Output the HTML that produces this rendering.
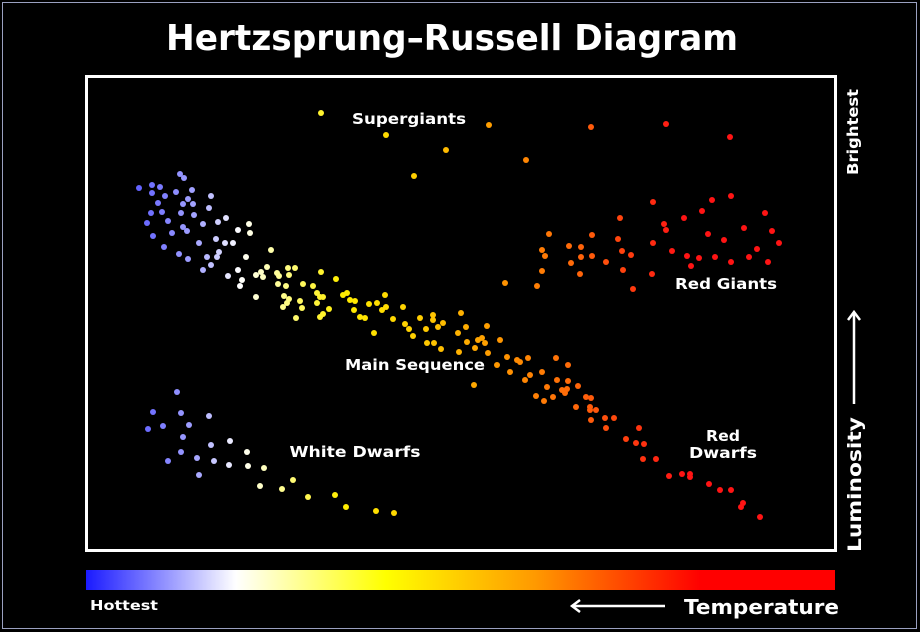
<!DOCTYPE html>
<html><head><meta charset="utf-8"><style>
html,body{margin:0;padding:0;background:#000;}
svg{display:block;}
text{font-family:"DejaVu Sans","Liberation Sans",sans-serif;font-weight:bold;fill:#fff;}
</style></head><body>
<svg id="s" width="920" height="632" viewBox="0 0 920 632" xmlns="http://www.w3.org/2000/svg">
<defs>
<linearGradient id="g" x1="0" x2="1" y1="0" y2="0">
<stop offset="0" stop-color="#1a1aff"/>
<stop offset="0.2" stop-color="#ffffff"/>
<stop offset="0.4" stop-color="#ffff00"/>
<stop offset="0.6" stop-color="#ff9900"/>
<stop offset="0.82" stop-color="#ff0000"/>
<stop offset="1" stop-color="#ff0000"/>
</linearGradient>
</defs>
<rect x="0" y="0" width="920" height="632" fill="#000"/>
<rect x="2.5" y="2.5" width="914" height="626" fill="none" stroke="#9aa0c0" stroke-width="1"/>
<text x="452" y="50" text-anchor="middle" font-size="36" textLength="572" lengthAdjust="spacingAndGlyphs">Hertzsprung–Russell Diagram</text>
<rect x="86.5" y="76.5" width="749" height="474" fill="none" stroke="#fff" stroke-width="3"/>
<g id="dots"></g>
<text x="409" y="124" text-anchor="middle" font-size="15" textLength="114" lengthAdjust="spacingAndGlyphs">Supergiants</text>
<text x="726" y="289" text-anchor="middle" font-size="15" textLength="102" lengthAdjust="spacingAndGlyphs">Red Giants</text>
<text x="415" y="370" text-anchor="middle" font-size="15" textLength="140" lengthAdjust="spacingAndGlyphs">Main Sequence</text>
<text x="355" y="457" text-anchor="middle" font-size="15" textLength="131" lengthAdjust="spacingAndGlyphs">White Dwarfs</text>
<text x="723" y="441" text-anchor="middle" font-size="15" textLength="34" lengthAdjust="spacingAndGlyphs">Red</text>
<text x="723" y="458" text-anchor="middle" font-size="15" textLength="68" lengthAdjust="spacingAndGlyphs">Dwarfs</text>
<rect x="86" y="570" width="749" height="20" fill="url(#g)"/>
<text x="90" y="610" font-size="13" textLength="68" lengthAdjust="spacingAndGlyphs">Hottest</text>
<text x="684" y="614" font-size="20" textLength="155" lengthAdjust="spacingAndGlyphs">Temperature</text>
<line x1="572" y1="606" x2="665" y2="606" stroke="#fff" stroke-width="2.5"/>
<polyline points="580,600 572,606 580,612" fill="none" stroke="#fff" stroke-width="2.5"/>
<text transform="translate(858,175) rotate(-90)" font-size="15" textLength="86" lengthAdjust="spacingAndGlyphs">Brightest</text>
<text transform="translate(861,552) rotate(-90)" font-size="19" textLength="135" lengthAdjust="spacingAndGlyphs">Luminosity</text>
<line x1="854" y1="312" x2="854" y2="404" stroke="#fff" stroke-width="2.5"/>
<polyline points="848,320 854,312 860,320" fill="none" stroke="#fff" stroke-width="2.5"/>
</svg>
<script>
var pts=[
[139,188],[152,185],[160,187],[180,174],[184,178],[152,193],[165,196],[176,192],[192,190],[211,196],[158,203],[183,204],[188,199],[193,204],[209,208],[151,213],[162,212],[181,213],[194,215],[147,223],[168,221],[203,224],[218,222],[226,218],[249,224],[183,227],[187,231],[172,233],[153,236],[238,230],[250,233],[216,239],[199,243],[225,243],[233,243],[164,247],[179,254],[188,259],[207,257],[217,257],[219,252],[246,257],[271,250],[203,270],[211,265],[238,270],[228,276],[242,280],[240,286],[256,275],[261,272],[263,277],[267,267],[277,273],[279,276],[288,268],[295,268],[289,275],[321,272],[336,279],[278,284],[286,286],[303,284],[313,286],[256,297],[284,296],[289,299],[287,303],[300,301],[283,307],[302,308],[296,318],[317,293],[320,297],[323,297],[317,303],[329,309],[323,314],[320,317],[343,295],[347,293],[350,300],[355,301],[354,310],[360,317],[365,318],[369,304],[377,303],[385,295],[386,307],[382,310],[403,307],[393,319],[405,324],[409,329],[413,336],[374,333],[420,318],[433,315],[433,320],[443,323],[438,327],[426,329],[461,313],[466,327],[458,333],[487,326],[482,338],[478,340],[485,343],[500,340],[467,342],[427,343],[434,343],[441,349],[459,352],[475,348],[488,353],[497,365],[507,357],[517,360],[520,362],[528,358],[556,358],[568,365],[510,372],[530,375],[525,380],[542,372],[474,385],[557,380],[568,381],[578,386],[547,387],[562,390],[565,393],[567,389],[536,396],[544,401],[553,397],[586,397],[591,398],[576,407],[590,407],[590,410],[596,410],[591,420],[605,418],[614,418],[606,428],[639,428],[626,439],[636,443],[644,444],[643,459],[656,459],[669,476],[682,474],[690,474],[690,477],[709,484],[720,490],[731,490],[743,503],[741,507],[760,517],
[505,283],[537,286],[542,271],[542,250],[545,256],[549,234],[569,246],[581,247],[581,257],[571,263],[580,274],[592,256],[592,235],[606,262],[618,239],[620,218],[622,251],[631,255],[623,270],[633,289],[653,202],[653,243],[652,274],[664,224],[666,230],[672,251],[684,218],[687,256],[691,266],[699,258],[702,211],[708,234],[712,200],[715,257],[724,240],[731,196],[731,262],[744,228],[749,257],[757,249],[765,213],[768,262],[772,231],[779,243],
[321,113],[386,135],[489,125],[446,150],[414,176],[526,160],[591,127],[666,124],[730,137],
[177,392],[153,412],[181,413],[209,416],[148,429],[163,426],[189,425],[183,437],[211,445],[230,441],[247,452],[181,452],[168,461],[197,458],[214,461],[229,465],[248,466],[264,468],[199,475],[260,486],[282,489],[293,480],[308,497],[335,495],[346,507],[376,511],[394,513]];
var stops=[[140,[100,100,255]],[200,[170,170,255]],[240,[255,255,255]],[275,[255,255,160]],[340,[255,238,0]],[420,[255,205,0]],[500,[255,150,0]],[580,[255,100,10]],[680,[255,20,20]],[800,[255,20,20]]];
function col(x){if(x<=stops[0][0])return stops[0][1];for(var i=1;i<stops.length;i++){if(x<=stops[i][0]){var a=stops[i-1],b=stops[i],t=(x-a[0])/(b[0]-a[0]);return a[1].map(function(v,k){return Math.round(v+(b[1][k]-v)*t)});}}return stops[stops.length-1][1];}
var g=document.getElementById('dots'),h='';
pts.forEach(function(p){var c=col(p[0]);h+='<circle cx="'+p[0]+'" cy="'+p[1]+'" r="3" fill="rgb('+c.join(',')+')"/>';});
g.innerHTML=h;
</script>
</body></html>
